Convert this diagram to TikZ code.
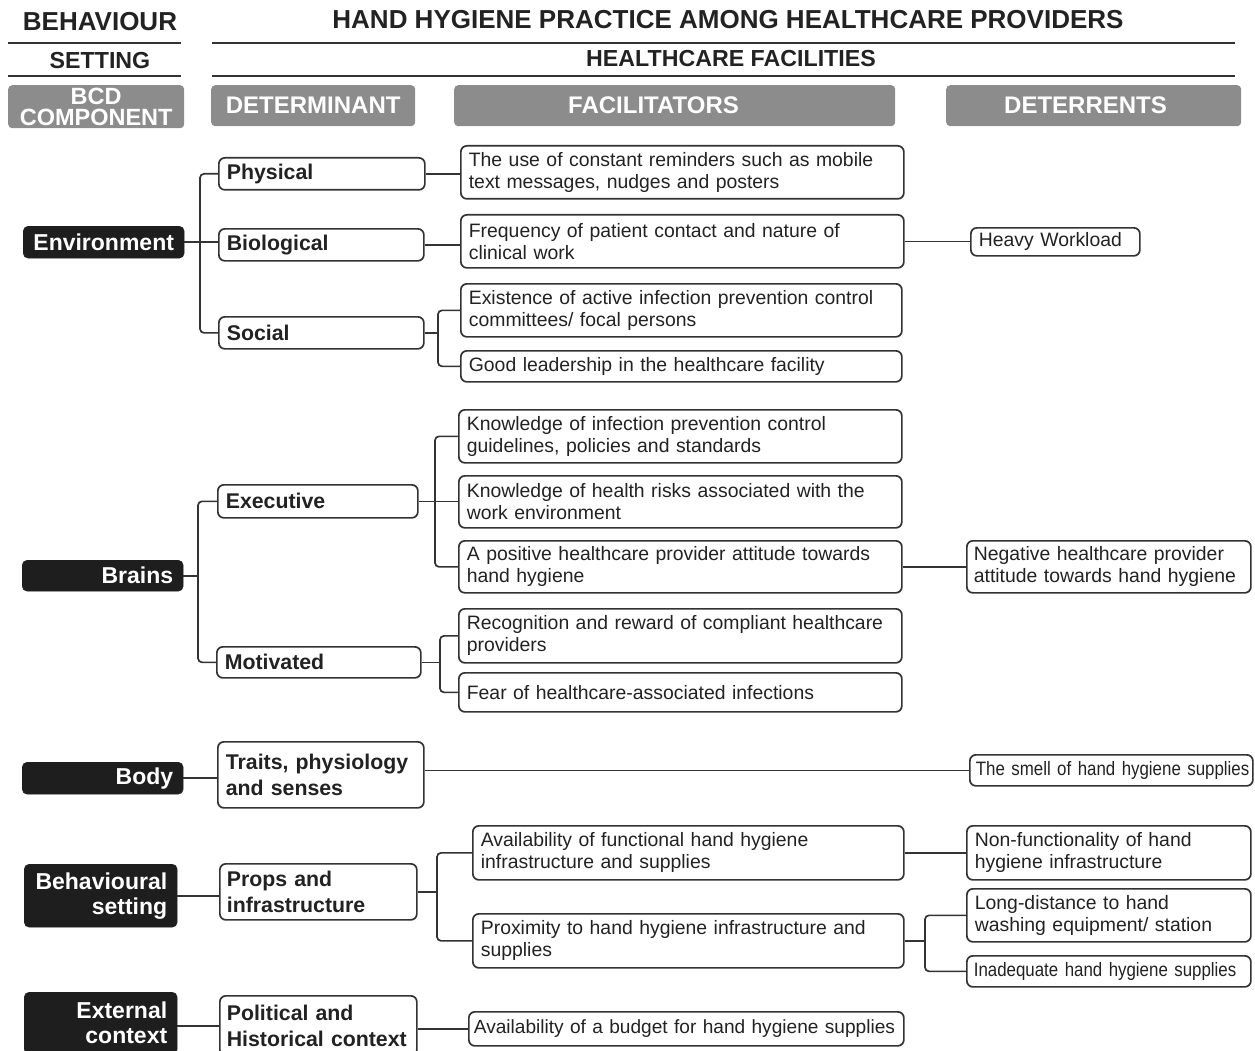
\documentclass[tikz,border=0pt]{standalone}
\usepackage{fontspec}
\setmainfont{Liberation Sans}
\newfontfamily\narrowfont[FakeStretch=0.87]{Liberation Sans}
\definecolor{hdrgray}{HTML}{8C8C8C}
\definecolor{compblack}{HTML}{1E1E1E}
\definecolor{boxline}{HTML}{333333}
\definecolor{textdark}{HTML}{222222}
\begin{document}
\begin{tikzpicture}[x=1pt,y=-1pt,
  conn/.style={draw=boxline, line width=1.7pt, rounded corners=4pt},
  rule/.style={draw=boxline, line width=2.5pt},
  hdr/.style={fill=hdrgray, rounded corners=4pt, text=white, font=\fontsize{24}{21}\selectfont\bfseries, align=center, anchor=north west, inner sep=0pt},
  titletext/.style={text=textdark, font=\fontsize{26}{28}\selectfont\bfseries, inner sep=0pt},
  subtext/.style={text=textdark, font=\fontsize{23.2}{26}\selectfont\bfseries, inner sep=0pt},
  comp/.style={fill=compblack, draw=compblack, rounded corners=5pt, text=white, font=\fontsize{23}{25}\selectfont\bfseries, align=right, inner xsep=10pt, inner ysep=0pt, anchor=north west},
  det/.style={draw=boxline, fill=white, line width=1.7pt, rounded corners=6pt, text=textdark, font=\fontsize{21.3}{26}\selectfont\bfseries, align=left, inner xsep=8pt, inner ysep=0pt, anchor=north west},
  fac/.style={draw=boxline, fill=white, line width=1.7pt, rounded corners=6pt, text=textdark, font=\fontsize{19.4}{22}\selectfont, align=left, inner xsep=8pt, inner ysep=0pt, anchor=north west},
  facn/.style={fac, font=\fontsize{19.4}{22}\selectfont\narrowfont}
]
\useasboundingbox (0,0) rectangle (1255,1051);

% ---- headers ----
\node[titletext] (tb) at (100,22) {BEHAVIOUR};
\node[subtext] (ts) at (100,61) {SETTING};
\node[titletext] (tt) at (728,20) {HAND HYGIENE PRACTICE AMONG HEALTHCARE PROVIDERS};
\node[subtext] (thf) at (731,59) {HEALTHCARE FACILITIES};
\draw[rule] (8,43) -- (181,43);
\draw[rule] (8,76) -- (181,76);
\draw[rule] (212,43) -- (1235,43);
\draw[rule] (212,76) -- (1235,76);
\node[hdr, minimum width=176pt, minimum height=43pt, font=\fontsize{23.5}{21}\selectfont\bfseries] (hbcd) at (8,85) {BCD\\COMPONENT};
\node[hdr, minimum width=204pt, minimum height=41pt] (hdet) at (211,85) {DETERMINANT};
\node[hdr, minimum width=441pt, minimum height=41pt, align=left, inner xsep=114pt, text width=213pt] (hfac) at (454,85) {FACILITATORS};
\node[hdr, minimum width=295pt, minimum height=41pt, align=left, inner xsep=58pt, text width=179pt] (hdtr) at (946,85) {DETERRENTS};

% ---- BCD components ----
\node[comp, minimum width=161pt, text width=141pt, minimum height=32pt, align=center] (env) at (23,226) {Environment};
\node[comp, minimum width=161pt, text width=141pt, minimum height=31pt] (brains) at (22,560) {Brains};
\node[comp, minimum width=161pt, text width=141pt, minimum height=32pt] (body) at (22,762) {Body};
\node[comp, minimum width=153pt, text width=133pt, minimum height=63pt] (behav) at (24,864) {Behavioural\\setting};
\node[comp, minimum width=153pt, text width=133pt, minimum height=62pt] (ext) at (24,992) {External\\context};

% ---- determinants ----
\node[det, minimum width=206pt, text width=190pt, minimum height=32pt] (phys) at (218,157) {Physical};
\node[det, minimum width=205pt, text width=189pt, minimum height=32pt] (bio) at (218,228) {Biological};
\node[det, minimum width=205pt, text width=189pt, minimum height=32pt] (soc) at (218,316) {Social};
\node[det, minimum width=200pt, text width=184pt, minimum height=33pt] (exec) at (217,484) {Executive};
\node[det, minimum width=204pt, text width=188pt, minimum height=31pt] (motiv) at (216,646) {Motivated};
\node[det, minimum width=206pt, text width=190pt, minimum height=66pt] (traits) at (217,741) {\mbox{Traits, physiology}\\and senses};
\node[det, minimum width=197pt, text width=183pt, minimum height=56pt, inner xsep=7pt] (props) at (219,863) {Props and\\infrastructure};
\node[det, minimum width=197pt, text width=183pt, minimum height=60pt, inner xsep=7pt] (polit) at (219,995) {Political and\\\mbox{Historical context}};

% ---- facilitators ----
\node[fac, minimum width=443pt, text width=427pt, minimum height=53pt] (f1) at (460,145) {\mbox{The use of constant reminders such as mobile}\\text messages, nudges and posters};
\node[fac, minimum width=443pt, text width=427pt, minimum height=53pt] (f2) at (460,214) {Frequency of patient contact and nature of\\clinical work};
\node[fac, minimum width=441pt, text width=425pt, minimum height=53pt] (f3) at (460,283) {\mbox{Existence of active infection prevention control}\\committees/ focal persons};
\node[fac, minimum width=441pt, text width=425pt, minimum height=31pt] (f4) at (460,350) {Good leadership in the healthcare facility};
\node[fac, minimum width=443pt, text width=427pt, minimum height=53pt] (f5) at (458,409) {Knowledge of infection prevention control\\guidelines, policies and standards};
\node[fac, minimum width=443pt, text width=427pt, minimum height=52pt] (f6) at (458,475) {\mbox{Knowledge of health risks associated with the}\\work environment};
\node[fac, minimum width=443pt, text width=427pt, minimum height=52pt] (f7) at (458,540) {\mbox{A positive healthcare provider attitude towards}\\hand hygiene};
\node[fac, minimum width=443pt, text width=427pt, minimum height=54pt] (f8) at (458,608) {\mbox{Recognition and reward of compliant healthcare}\\providers};
\node[fac, minimum width=443pt, text width=427pt, minimum height=39pt] (f9) at (458,672) {Fear of healthcare-associated infections};
\node[fac, minimum width=431pt, text width=415pt, minimum height=54pt] (f10) at (472,825) {Availability of functional hand hygiene\\infrastructure and supplies};
\node[fac, minimum width=431pt, text width=415pt, minimum height=54pt] (f11) at (472,913) {\mbox{Proximity to hand hygiene infrastructure and}\\supplies};
\node[fac, minimum width=435pt, text width=425pt, minimum height=34pt, inner xsep=5pt, font=\fontsize{19.1}{22}\selectfont] (f12) at (468,1011) {\mbox{Availability of a budget for hand hygiene supplies}};

% ---- deterrents ----
\node[fac, minimum width=169pt, text width=153pt, minimum height=28pt] (d1) at (970,227) {Heavy Workload};
\node[fac, minimum width=284pt, text width=270pt, minimum height=52pt, inner xsep=7pt] (d2) at (966,540) {Negative healthcare provider\\\mbox{attitude towards hand hygiene}};
\node[facn, minimum width=283pt, text width=271pt, minimum height=31pt, inner xsep=6pt] (d3) at (969,754) {\mbox{The smell of hand hygiene supplies}};
\node[fac, minimum width=284pt, text width=268pt, minimum height=54pt] (d4) at (966,825) {Non-functionality of hand\\hygiene infrastructure};
\node[fac, minimum width=284pt, text width=268pt, minimum height=53pt] (d5) at (966,888) {Long-distance to hand\\washing equipment/ station};
\node[facn, minimum width=284pt, text width=270pt, minimum height=31pt, inner xsep=7pt] (d6) at (966,955) {\mbox{Inadequate hand hygiene supplies}};

% ---- spine coordinates ----
\coordinate (envx) at (200,0);
\coordinate (brx) at (198,0);
\coordinate (socx) at (438,0);
\coordinate (exx) at (435,0);
\coordinate (mox) at (440,0);
\coordinate (prx) at (437,0);
\coordinate (f11x) at (925,0);

% ---- connectors ----
\draw[conn] (phys.west) -- (phys.west -| envx) -- (soc.west -| envx) -- (soc.west);
\draw[conn] (env.east) -- (env.east -| bio.west);
\draw[conn] (exec.west) -- (exec.west -| brx) -- (motiv.west -| brx) -- (motiv.west);
\draw[conn] (brains.east) -- (brains.east -| brx);
\draw[conn] (body.east) -- (body.east -| traits.west);
\draw[conn] (behav.east) -- (behav.east -| props.west);
\draw[conn] (ext.east |- polit.west) -- (polit.west);

\draw[conn] (phys.east) -- (phys.east -| f1.west);
\draw[conn] (bio.east) -- (bio.east -| f2.west);
\draw[conn] (soc.east) -- (soc.east -| socx);
\draw[conn] (f3.west) -- (f3.west -| socx) -- (f4.west -| socx) -- (f4.west);
\draw[conn] (exec.east) -- (exec.east -| f6.west);
\draw[conn] (f5.west) -- (f5.west -| exx) -- (f7.west -| exx) -- (f7.west);
\draw[conn] (motiv.east) -- (motiv.east -| mox);
\draw[conn] (f8.west) -- (f8.west -| mox) -- (f9.west -| mox) -- (f9.west);
\draw[conn] (traits.east |- d3.west) -- (d3.west);
\draw[conn] (props.east) -- (props.east -| prx);
\draw[conn] (f10.west) -- (f10.west -| prx) -- (f11.west -| prx) -- (f11.west);
\draw[conn] (polit.east |- f12.west) -- (f12.west);

\draw[conn] (f2.east) -- (f2.east -| d1.west);
\draw[conn] (f7.east) -- (f7.east -| d2.west);
\draw[conn] (f10.east) -- (f10.east -| d4.west);
\draw[conn] (f11.east) -- (f11.east -| f11x);
\draw[conn] (d5.west) -- (d5.west -| f11x) -- (d6.west -| f11x) -- (d6.west);
\end{tikzpicture}
\end{document}
